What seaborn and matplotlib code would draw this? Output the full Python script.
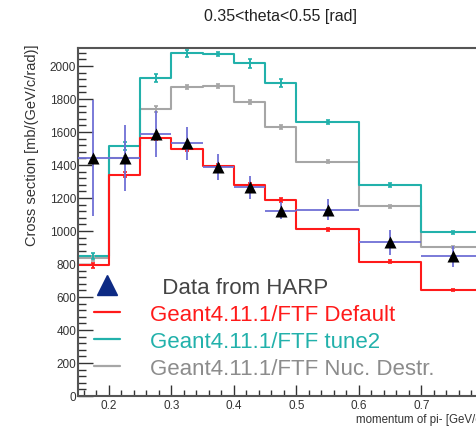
import numpy as np
import pandas as pd
import matplotlib
matplotlib.use("Agg")
import matplotlib.pyplot as plt
import seaborn as sns
from matplotlib.lines import Line2D
from matplotlib.ticker import MultipleLocator

# ---- data ----
bin_edges = [0.15, 0.2, 0.25, 0.3, 0.35, 0.4, 0.45, 0.5, 0.6, 0.7, 0.8]
harp_values = [1442, 1440, 1588, 1533, 1386, 1264, 1123, 1129, 931, 847]
harp_errors = [350, 200, 140, 100, 80, 70, 50, 65, 75, 65]
ftf_default = [792, 1341, 1564, 1497, 1392, 1279, 1186, 1010, 814, 644]
ftf_tune2 = [850, 1513, 1927, 2077, 2073, 2015, 1895, 1658, 1279, 992]
ftf_nucdestr = [834, 1440, 1739, 1875, 1878, 1779, 1633, 1420, 1149, 901]
mc_errors_default = [15, 15, 15, 12, 12, 12, 12, 10, 8, 6]
mc_errors_tune2 = [18, 25, 25, 20, 10, 25, 25, 12, 12, 10]
mc_errors_nuc = [15, 15, 20, 12, 12, 12, 12, 8, 8, 6]

title = "0.35<theta<0.55 [rad]"
ylabel = "Cross section [mb/(GeV/c/rad)]"
xlabel = "momentum of pi- [GeV/c]"
legend_labels = ["  Data from HARP", "Geant4.11.1/FTF Default",
                 "Geant4.11.1/FTF tune2", "Geant4.11.1/FTF Nuc. Destr."]

edges = np.array(bin_edges)
centers = 0.5 * (edges[:-1] + edges[1:])
half_w = 0.5 * (edges[1:] - edges[:-1])

sns.set_style("ticks")
plt.rcParams["font.family"] = ["Liberation Sans", "DejaVu Sans"]

RED = "#ff1a1a"
CYAN = "#22b1ab"
GRAY = "#a6a6a6"
BLUE = "#6f6fd6"
NAVY = "#0d2a84"

fig = plt.figure(figsize=(4.77, 4.27), dpi=100)
ax = fig.add_axes([77.7 / 477, 30 / 427, (484 - 77.7) / 477, (397 - 49.3) / 427])

df = pd.DataFrame({"center": centers, "default": ftf_default,
                   "tune2": ftf_tune2, "nuc": ftf_nucdestr})

for col, color, errs in [("nuc", GRAY, mc_errors_nuc),
                         ("tune2", CYAN, mc_errors_tune2),
                         ("default", RED, mc_errors_default)]:
    sns.histplot(x=df["center"].tolist(), weights=df[col].tolist(),
                 bins=list(bin_edges), element="step",
                 fill=False, color=color, linewidth=1.5, ax=ax)
    ax.errorbar(centers, df[col], yerr=errs, fmt="none", ecolor=color,
                elinewidth=1.4, capsize=1.5, capthick=1.2, zorder=3)

# data
ax.errorbar(centers, harp_values, xerr=half_w, yerr=harp_errors, fmt="none",
            ecolor=BLUE, elinewidth=1.3, zorder=4)
sns.scatterplot(x=centers, y=harp_values, marker="^", color="black", s=75,
                edgecolor="black", linewidth=0, ax=ax, zorder=5)

ax.set_xlim(0.15, 0.8)
ax.set_ylim(0, 2107)
ax.set_xlabel("")
ax.set_ylabel("")
ax.xaxis.set_major_locator(MultipleLocator(0.1))
ax.xaxis.set_minor_locator(MultipleLocator(0.02))
ax.yaxis.set_major_locator(MultipleLocator(200))
ax.yaxis.set_minor_locator(MultipleLocator(40))
ax.xaxis.set_major_formatter(matplotlib.ticker.FuncFormatter(lambda v, p: f"{v:.1f}"))
ax.tick_params(axis="both", which="both", direction="in", colors="#333333",
               labelcolor="#333333", labelsize=8.5, width=1.0)
ax.tick_params(axis="y", which="major", length=11, pad=1)
ax.tick_params(axis="y", which="minor", length=5.5)
ax.tick_params(axis="x", which="major", length=8, pad=2)
ax.tick_params(axis="x", which="minor", length=4)
ax.tick_params(top=False, right=False)
for s in ax.spines.values():
    s.set_color("#555555")
    s.set_linewidth(1.5)

fig.text(281 / 477, 1 - 17 / 427, title, ha="center", va="center",
         fontsize=11.5, color="#222222")
fig.text(32 / 477, 1 - 45 / 427, ylabel, rotation=90, ha="center", va="top",
         fontsize=10.5, color="#333333")
ax.text(1.0, -0.066, xlabel, transform=ax.transAxes, ha="right", va="center",
        fontsize=8.3, color="#333333")

handles = [Line2D([], [], marker="^", color=NAVY, linestyle="none", markersize=14),
           Line2D([], [], color=RED, linewidth=1.6),
           Line2D([], [], color=CYAN, linewidth=1.6),
           Line2D([], [], color=GRAY, linewidth=1.6)]
fig.legend(handles, legend_labels, loc="upper left",
           bbox_to_anchor=(94 / 477, 1 - 278 / 427), frameon=False,
           fontsize=16, handlelength=1.15, handletextpad=1.35,
           labelspacing=0.27, borderpad=0, borderaxespad=0,
           labelcolor=["#444444", RED, CYAN, "#8c8c8c"])

fig.savefig("out.png", dpi=100)
